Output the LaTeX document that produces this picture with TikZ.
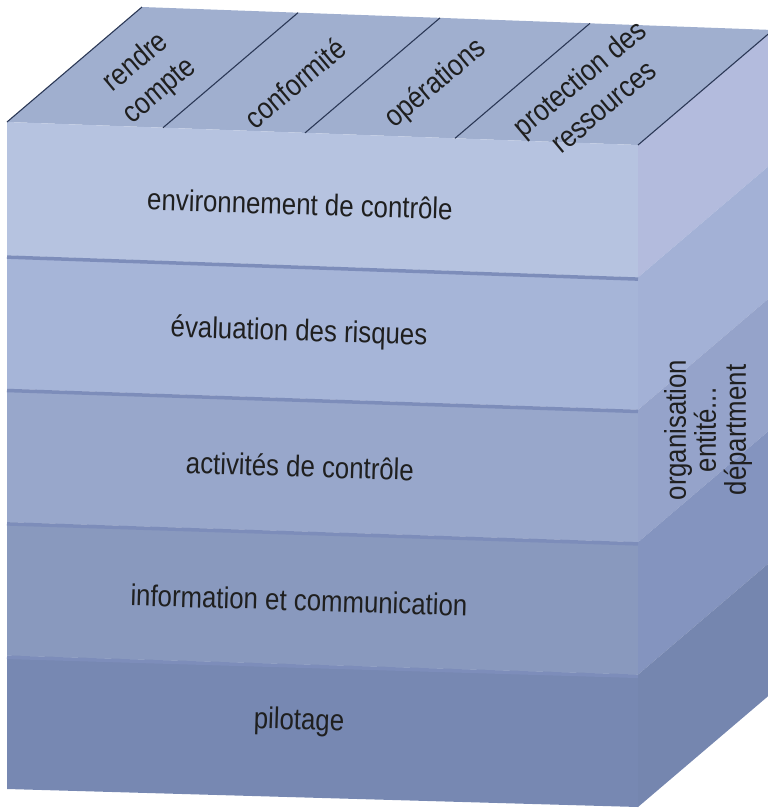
\documentclass[tikz,border=0pt]{standalone}
\usepackage{fontspec}
\setmainfont{Liberation Sans}
\newfontfamily\cubefont[FakeStretch=0.86]{Liberation Sans}

\definecolor{topface}{HTML}{A0AFCF}
\definecolor{frontA}{HTML}{B6C3E0}
\definecolor{frontB}{HTML}{A6B5D8}
\definecolor{frontC}{HTML}{98A7CB}
\definecolor{frontD}{HTML}{8999BE}
\definecolor{frontE}{HTML}{7788B2}
\definecolor{sideA}{HTML}{B3BBDD}
\definecolor{sideB}{HTML}{A3B1D6}
\definecolor{sideC}{HTML}{95A3CA}
\definecolor{sideD}{HTML}{8494BF}
\definecolor{sideE}{HTML}{7586AF}
\definecolor{seam}{HTML}{7D8DBA}
\definecolor{edge}{HTML}{2B3856}

\begin{document}
\begin{tikzpicture}[x=1pt,y=-1pt,
    lbl/.style={font=\cubefont\fontsize{30}{32}\selectfont,text=black!88,rotate=-1.8},
    toplbl/.style={font=\cubefont\fontsize{30}{37}\selectfont,text=black!88,rotate=40,align=center},
    sidelbl/.style={font=\cubefont\fontsize{30}{30}\selectfont,text=black!88,rotate=90,align=center},
    divider/.style={draw=edge,line width=1.1pt},
    seamline/.style={draw=seam,line width=3.5pt}]
    \clip (0,0) rectangle (768,809);

    % front corners
    \coordinate (ftl) at (7,122);
    \coordinate (ftr) at (638,145);
    \coordinate (btl) at (142,7);
    \coordinate (btr) at (773,30);

    % top face
    \fill[topface] (ftl) -- (btl) -- (btr) -- (ftr) -- cycle;

    % front layers
    \fill[frontA] (7,122) -- (638,145) -- (638,277.4) -- (7,255.4) -- cycle;
    \fill[frontB] (7,255.4) -- (638,277.4) -- (638,409.8) -- (7,388.8) -- cycle;
    \fill[frontC] (7,388.8) -- (638,409.8) -- (638,542.2) -- (7,522.2) -- cycle;
    \fill[frontD] (7,522.2) -- (638,542.2) -- (638,674.6) -- (7,655.6) -- cycle;
    \fill[frontE] (7,655.6) -- (638,674.6) -- (638,807) -- (7,789) -- cycle;

    % side layers
    \fill[sideA] (638,145) -- (773,30) -- (773,162.4) -- (638,277.4) -- cycle;
    \fill[sideB] (638,277.4) -- (773,162.4) -- (773,294.8) -- (638,409.8) -- cycle;
    \fill[sideC] (638,409.8) -- (773,294.8) -- (773,427.2) -- (638,542.2) -- cycle;
    \fill[sideD] (638,542.2) -- (773,427.2) -- (773,559.6) -- (638,674.6) -- cycle;
    \fill[sideE] (638,674.6) -- (773,559.6) -- (773,692) -- (638,807) -- cycle;

    % seams between layers
    \draw[seamline] (7,257.1) -- (638,279.1);
    \draw[seamline] (7,390.5) -- (638,411.5);
    \draw[seamline] (7,523.9) -- (638,543.9);
    \draw[seamline] (7,657.3) -- (638,676.3);

    % top face dividers
    \coordinate (d1) at (163,127.7);
    \coordinate (d2) at (305,132.9);
    \coordinate (d3) at (455,138.3);
    \coordinate (e1) at (298,12.7);
    \coordinate (e2) at (440,17.9);
    \coordinate (e3) at (590,23.3);
    \draw[divider] (ftl) -- (btl);
    \draw[divider] (d1) -- (e1);
    \draw[divider] (d2) -- (e2);
    \draw[divider] (d3) -- (e3);
    \draw[divider] (ftr) -- (btr);

    % labels
    \node[toplbl] (rendre) at (148,77) {rendre\\compte};
    \node[toplbl] (conf) at (295,83) {conformité};
    \node[toplbl] (oper) at (436,84) {opérations};
    \node[toplbl] (prot) at (591,92) {protection des\\ressources};

    \node[lbl] (env) at (300,204) {environnement de contrôle};
    \node[lbl] (eval) at (299,333) {évaluation des risques};
    \node[lbl] (act) at (300,466) {activités de contrôle};
    \node[lbl] (info) at (299,600) {information et communication};
    \node[lbl] (pil) at (299,722) {pilotage};

    \node[sidelbl] (org) at (708,430) {organisation\\entité...\\départment};
\end{tikzpicture}
\end{document}
